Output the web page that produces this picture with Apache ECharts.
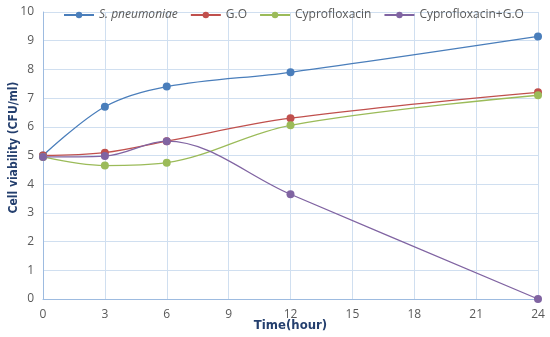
<!DOCTYPE html>
<html><head><meta charset="utf-8">
<script src="https://cdn.jsdelivr.net/npm/echarts@6/dist/echarts.min.js"></script>
<style>html,body{margin:0;padding:0;background:#fff}#c{width:550px;height:337px}</style>
</head><body><div id="c"></div>
<script>
var times = [0, 3, 6, 12, 24];
var seriesNames = ['S. pneumoniae', 'G.O', 'Cyprofloxacin', 'Cyprofloxacin+G.O'];
var sPneumoniae = [5.0, 6.7, 7.4, 7.9, 9.15];
var go = [5.0, 5.1, 5.5, 6.3, 7.2];
var cypro = [4.95, 4.65, 4.75, 6.05, 7.1];
var cyproGo = [4.95, 4.98, 5.5, 3.65, 0];
var colors = ['#4a7ebb', '#c0504d', '#9bbb59', '#8064a2'];
var allValues = [sPneumoniae, go, cypro, cyproGo];

function pairs(v){ return times.map(function(t,i){ return [t, v[i]]; }); }

var nameFont = '"Liberation Sans Narrow", "DejaVu Sans Condensed", "Open Sans", sans-serif';
var chart = echarts.init(document.getElementById('c'));
chart.setOption({
  animation: false,
  grid: {left: 43, right: 12, top: 12, bottom: 38, outerBoundsMode: 'none', containLabel: false},
  legend: {
    top: 4, left: 58, itemGap: 12, itemWidth: 30, itemHeight: 8,
    data: seriesNames,
    formatter: function(n){ return n === 'S. pneumoniae' ? '{i|' + n + '}' : n; },
    textStyle: {fontFamily: 'Open Sans', fontSize: 12, color: '#595959',
      rich: {i: {fontStyle: 'italic', fontFamily: 'Open Sans', fontSize: 12, color: '#595959'}}}
  },
  xAxis: {
    type: 'value', min: 0, max: 24, interval: 3,
    name: 'Time(hour)', nameLocation: 'middle', nameGap: 20, nameMoveOverlap: false,
    nameTextStyle: {fontFamily: nameFont, fontWeight: 'bold', fontSize: 13, color: '#243f6e'},
    axisLine: {lineStyle: {color: '#9dbbe0'}},
    axisTick: {show: false},
    axisLabel: {fontFamily: 'Open Sans', fontSize: 12, color: '#595959', margin: 10},
    splitLine: {show: true, lineStyle: {color: '#d0dff0'}}
  },
  yAxis: {
    type: 'value', min: 0, max: 10, interval: 1,
    name: 'Cell viability (CFU/ml)', nameLocation: 'middle', nameGap: 23, nameMoveOverlap: false,
    nameTextStyle: {fontFamily: nameFont, fontWeight: 'bold', fontSize: 12, color: '#243f6e', padding: [0, 0, 0, 16]},
    axisLine: {show: true, lineStyle: {color: '#9dbbe0'}},
    axisTick: {show: false},
    axisLabel: {fontFamily: 'Open Sans', fontSize: 12, color: '#595959', margin: 9},
    splitLine: {show: true, lineStyle: {color: '#d0dff0'}}
  },
  series: seriesNames.map(function(n, i){
    return {
      name: n, type: 'line', smooth: 0.35, data: pairs(allValues[i]),
      symbol: 'circle', symbolSize: 8,
      itemStyle: {color: colors[i]},
      lineStyle: {width: 1.3, color: colors[i]}
    };
  })
});
</script></body></html>
